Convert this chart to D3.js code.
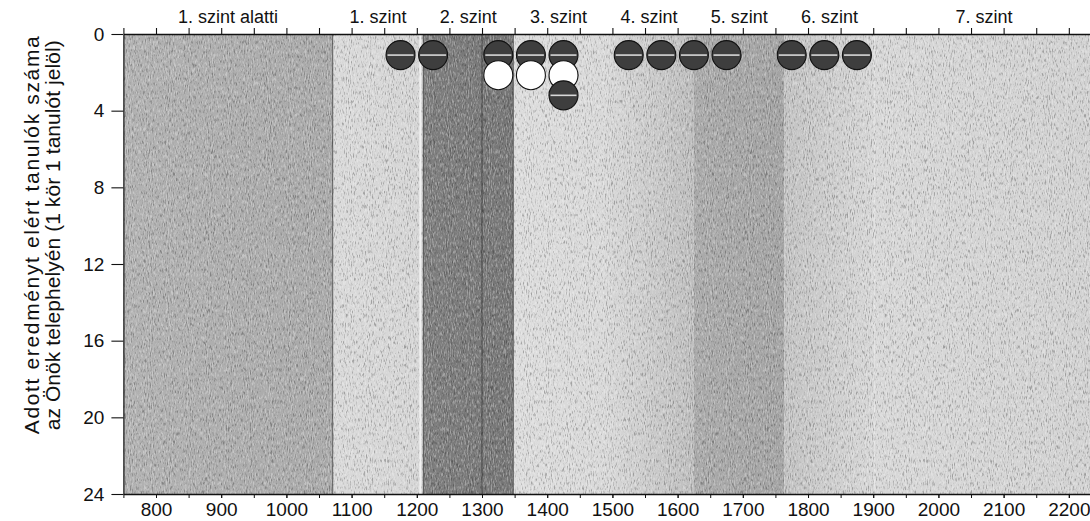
<!DOCTYPE html>
<html>
<head>
<meta charset="utf-8">
<script src="https://cdn.jsdelivr.net/npm/d3@7/dist/d3.min.js"></script>
<style>
  html, body { margin: 0; padding: 0; background: #fff; }
  svg { display: block; }
  text { font-family: "Liberation Sans", Arial, Helvetica, sans-serif; fill: #111; }
</style>
</head>
<body>
<svg id="chart" width="1090" height="521"></svg>
<script>
// ---------------- data ----------------
const levelNames = ["1. szint alatti", "1. szint", "2. szint", "3. szint", "4. szint", "5. szint", "6. szint", "7. szint"];
const levelEdges = [750, 1071, 1210, 1348, 1487, 1625, 1764, 1902, 2238];
const bottomTickValues = [800, 900, 1000, 1100, 1200, 1300, 1400, 1500, 1600, 1700, 1800, 1900, 2000, 2100, 2200];
const yTickValues = [0, 4, 8, 12, 16, 20, 24];
// score bins (centre of each 50-point bin) and the students in each, listed bottom-up in drawing order
const binCenters = [1175, 1225, 1325, 1375, 1425, 1525, 1575, 1625, 1675, 1775, 1825, 1875];
const binStudents = [
  ["filled"], ["filled"],
  ["filled", "open"], ["filled", "open"], ["filled", "open", "filled"],
  ["filled"], ["filled"], ["filled"], ["filled"],
  ["filled"], ["filled"], ["filled"]
];
const yTitleLines = ["Adott eredményt elért tanulók száma", "az Önök telephelyén (1 kör 1 tanulót jelöl)"];
const dividerScores = [1071, 1210, 1300, 1348];

// ---------------- style ----------------
const levelShades = [
  ["#b2b2b2", "#a9a9a9"],
  ["#dadada", "#d5d5d5"],
  ["#7e7e7e", "#767676"],
  ["#dddddd", "#d9d9d9"],
  ["#d9d9d9", "#bebebe"],
  ["#aaaaaa", "#a3a3a3"],
  ["#c3c3c3", "#d7d7d7"],
  ["#d8d8d8", "#d2d2d2"]
];

const svg = d3.select("#chart");
const plot = { left: 123.4, right: 1093.6, top: 34, bottom: 494 };

const x = d3.scaleLinear().domain([levelEdges[0], levelEdges[levelEdges.length - 1]]).range([plot.left, plot.right]);
const y = d3.scaleLinear().domain([0, 24]).range([plot.top, plot.bottom]);

const defs = svg.append("defs");

levelShades.forEach((s, i) => {
  const g = defs.append("linearGradient").attr("id", "band" + i).attr("x1", 0).attr("x2", 1).attr("y1", 0).attr("y2", 0);
  g.append("stop").attr("offset", 0).attr("stop-color", s[0]);
  g.append("stop").attr("offset", 1).attr("stop-color", s[1]);
});

const fDark = defs.append("filter").attr("id", "grainDark").attr("x", 0).attr("y", 0).attr("width", 1).attr("height", 1);
fDark.append("feTurbulence").attr("type", "fractalNoise").attr("baseFrequency", "0.95 0.22").attr("numOctaves", 2).attr("seed", 7);
fDark.append("feColorMatrix").attr("type", "matrix").attr("values", "0 0 0 0 0  0 0 0 0 0  0 0 0 0 0  -4 0 0 0 1.9");
const fLight = defs.append("filter").attr("id", "grainLight").attr("x", 0).attr("y", 0).attr("width", 1).attr("height", 1);
fLight.append("feTurbulence").attr("type", "fractalNoise").attr("baseFrequency", "0.95 0.22").attr("numOctaves", 2).attr("seed", 21);
fLight.append("feColorMatrix").attr("type", "matrix").attr("values", "0 0 0 0 1  0 0 0 0 1  0 0 0 0 1  4 0 0 0 -1.9");

const clip = defs.append("clipPath").attr("id", "plotClip");
clip.append("rect").attr("x", plot.left).attr("y", plot.top).attr("width", plot.right - plot.left).attr("height", plot.bottom - plot.top);

// ---------------- level bands ----------------
const bands = levelNames.map((name, i) => ({ name, i, x0: levelEdges[i], x1: levelEdges[i + 1] }));
const gBands = svg.append("g").attr("clip-path", "url(#plotClip)");
gBands.selectAll("rect.band").data(bands).join("rect")
  .attr("class", "band")
  .attr("x", d => x(d.x0)).attr("y", plot.top)
  .attr("width", d => x(d.x1) - x(d.x0)).attr("height", plot.bottom - plot.top)
  .attr("fill", d => `url(#band${d.i})`);

gBands.append("rect").attr("x", plot.left).attr("y", plot.top)
  .attr("width", plot.right - plot.left).attr("height", plot.bottom - plot.top)
  .attr("filter", "url(#grainDark)").attr("opacity", 0.25);
gBands.append("rect").attr("x", plot.left).attr("y", plot.top)
  .attr("width", plot.right - plot.left).attr("height", plot.bottom - plot.top)
  .attr("filter", "url(#grainLight)").attr("opacity", 0.3);

gBands.append("line")
  .attr("x1", x(levelEdges[2]) - 3).attr("x2", x(levelEdges[2]) - 3)
  .attr("y1", plot.top).attr("y2", plot.bottom)
  .attr("stroke", "#f2f2f2").attr("stroke-width", 2);
gBands.selectAll("line.edge").data(dividerScores).join("line")
  .attr("class", "edge")
  .attr("x1", d => x(d)).attr("x2", d => x(d))
  .attr("y1", plot.top).attr("y2", plot.bottom)
  .attr("stroke", "#333").attr("stroke-width", 1).attr("opacity", 0.75);

// ---------------- axes ----------------
const axisFont = 19;

const gy = svg.append("g").attr("transform", `translate(${plot.left},0)`)
  .call(d3.axisLeft(y).tickValues(yTickValues).tickSize(12).tickPadding(7).tickSizeOuter(0));
gy.select(".domain").attr("stroke", "#111").attr("stroke-width", 1.2);
gy.selectAll(".tick line").attr("stroke", "#111").attr("stroke-width", 1.1);
gy.selectAll(".tick text").style("font-size", axisFont + "px").attr("fill", "#111");

const minorTicks = d3.range(levelEdges[0], levelEdges[levelEdges.length - 1] + 1, 50);
const gxMinor = svg.append("g").attr("transform", `translate(0,${plot.bottom})`)
  .call(d3.axisBottom(x).tickValues(minorTicks).tickSize(4).tickFormat("").tickSizeOuter(0));
gxMinor.select(".domain").attr("stroke", "#111").attr("stroke-width", 1.4);
gxMinor.selectAll(".tick line").attr("stroke", "#111");
const gx = svg.append("g").attr("transform", `translate(0,${plot.bottom})`)
  .call(d3.axisBottom(x).tickValues(bottomTickValues).tickSize(4).tickPadding(5).tickFormat(d3.format("d")).tickSizeOuter(0));
gx.select(".domain").remove();
gx.selectAll(".tick line").attr("stroke", "#111");
gx.selectAll(".tick text").style("font-size", axisFont + "px").attr("fill", "#111");

const gt = svg.append("g").attr("transform", `translate(0,${plot.top})`)
  .call(d3.axisTop(x).tickValues(minorTicks).tickSize(6).tickFormat("").tickSizeOuter(0));
gt.select(".domain").attr("stroke", "#111").attr("stroke-width", 1.4);
gt.selectAll(".tick line").attr("stroke", "#111").attr("stroke-width", 1.1);

svg.append("g").selectAll("text.level").data(bands).join("text")
  .attr("class", "level")
  .attr("x", d => x((d.x0 + d.x1) / 2))
  .attr("y", 23)
  .attr("text-anchor", "middle")
  .style("font-size", "18px")
  .text(d => d.name);

// y-axis title (two lines, rotated)
const yTitleCenter = y(10.5);
svg.append("g").selectAll("text.ytitle").data(yTitleLines).join("text")
  .attr("class", "ytitle")
  .attr("transform", (d, i) => `translate(${39 + i * 21},${yTitleCenter}) rotate(-90)`)
  .attr("text-anchor", "middle")
  .attr("textLength", (d, i) => i === 0 ? 398 : 390)
  .attr("lengthAdjust", "spacing")
  .style("font-size", "21px")
  .text(d => d);

// ---------------- students (circles) ----------------
const r = 14.5;
const marks = [];
binCenters.forEach((c, bi) => {
  binStudents[bi].forEach((kind, k) => marks.push({ score: c, row: k, kind }));
});
const rowValue = k => 1.1 + k * 1.05;

const mg = svg.append("g").selectAll("g.mark").data(marks).join("g").attr("class", "mark")
  .attr("transform", d => `translate(${x(d.score)},${y(rowValue(d.row))})`);
mg.append("circle")
  .attr("r", r)
  .attr("fill", d => d.kind === "filled" ? "#3e3e3e" : "#ffffff")
  .attr("stroke", "#111").attr("stroke-width", 1.1);
mg.filter(d => d.kind === "filled").append("line")
  .attr("x1", -r + 1.5).attr("x2", r - 1.5).attr("y1", 0).attr("y2", 0)
  .attr("stroke", "#d8d8d8").attr("stroke-width", 1.6);
</script>
</body>
</html>
